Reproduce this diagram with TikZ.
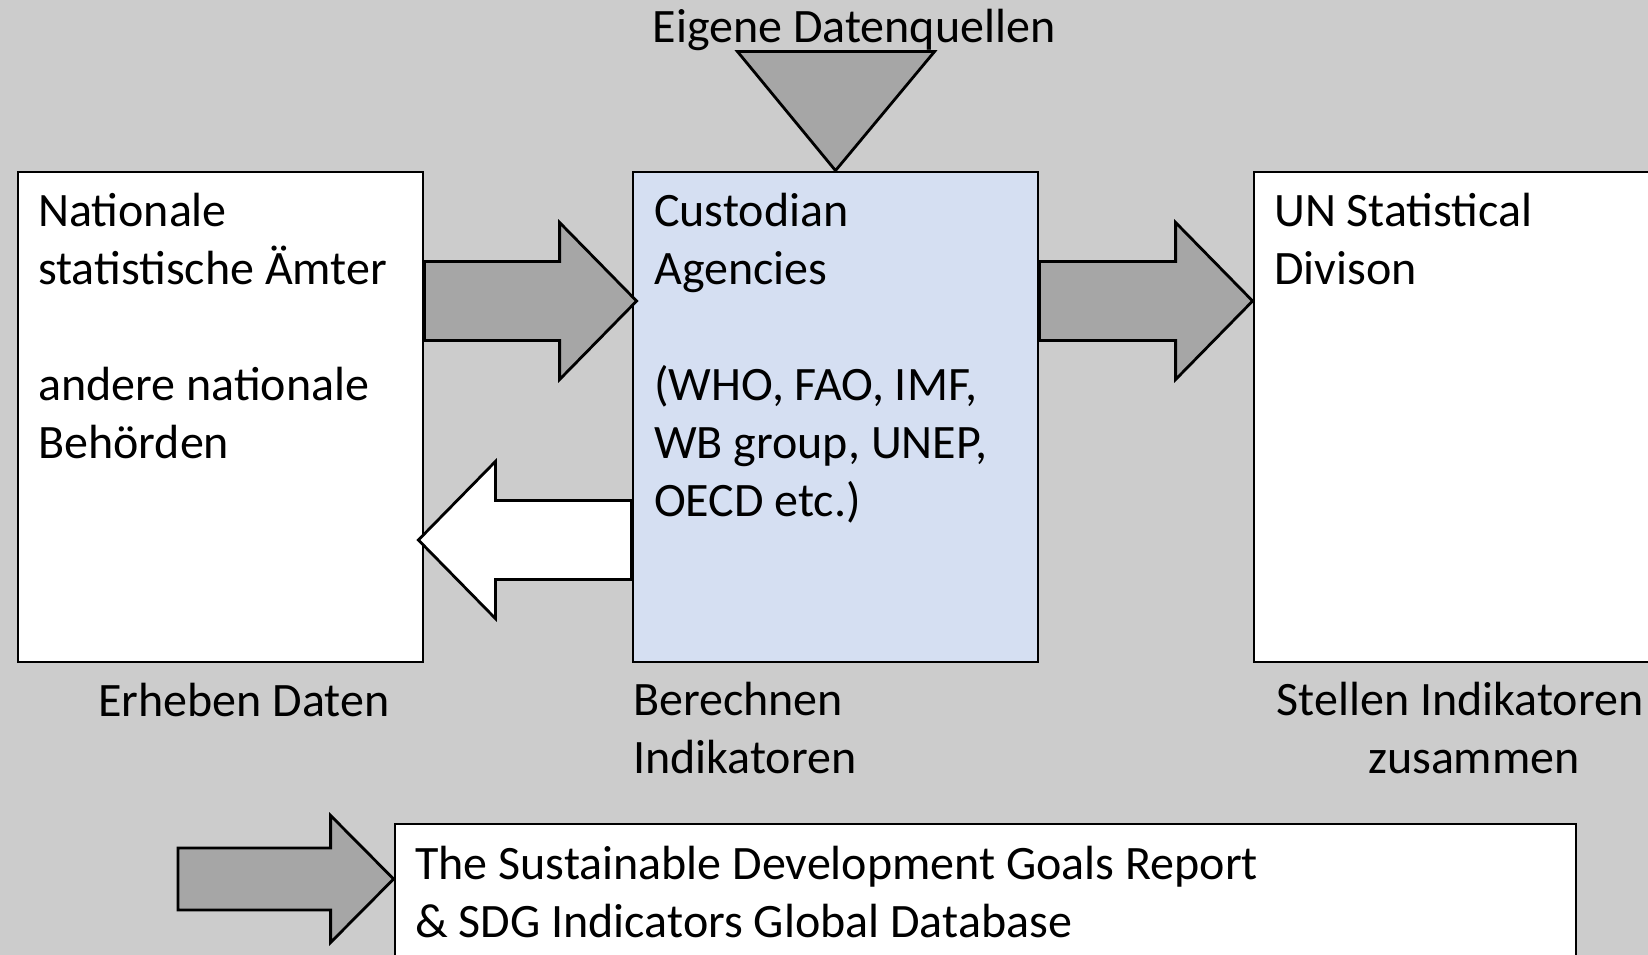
\documentclass[tikz,border=0pt]{standalone}
\usepackage{fontspec}
\setmainfont{Carlito}
\usepackage{tikz}
\usetikzlibrary{calc}

\definecolor{bggrey}{RGB}{204,204,204}
\definecolor{arrowgrey}{RGB}{166,166,166}
\definecolor{custblue}{RGB}{213,223,242}

\tikzset{
  box/.style={draw, line width=2.8pt, fill=white, minimum width=405, minimum height=490, inner sep=0pt},
  txt/.style={align=left, inner sep=0pt, font=\fontsize{48}{58}\selectfont},
  % #1 half shaft, #2 half head, #3 head length
  bigarrow/.style n args={3}{draw, line width=2.8pt, line join=miter,
    to path={let \p1=(\tikztostart), \p2=(\tikztotarget), \n1={sign(\x2-\x1)} in
      (\x1,{\y1+#1pt}) -- ({\x2-#3pt*\n1},{\y1+#1pt}) -- ({\x2-#3pt*\n1},{\y1+#2pt})
      -- (\x2,\y2) -- ({\x2-#3pt*\n1},{\y1-#2pt}) -- ({\x2-#3pt*\n1},{\y1-#1pt})
      -- (\x1,{\y1-#1pt}) -- cycle}}
}

\begin{document}
\begin{tikzpicture}[x=1pt,y=-1pt]
    \useasboundingbox (0,0) rectangle (1648,955);
    \fill[bggrey] (0,0) rectangle (1648,955);

    % boxes
    \node[box] (nat) at (220.5,417) {};
    \node[box, fill=custblue] (cust) at (835.5,417) {};
    \node[box] (unsd) at (1456.5,417) {};
    \node[box, minimum width=1181, minimum height=200] (sdg) at (985.5,924) {};

    % texts sit on the baseline of their last line
    \node[txt, anchor=base west] (nattext) at (38,458) {Nationale\\statistische Ämter\\[58pt]andere nationale\\Behörden};
    \node[txt, anchor=base west] (custtext) at (654,516) {Custodian\\Agencies\\[58pt](WHO, FAO, IMF,\\WB group, UNEP,\\OECD etc.)};
    \node[txt, anchor=base west] (unsdtext) at (1274,284) {UN Statistical\\Divison};
    \node[txt, anchor=base west] (sdgtext) at (415,937) {The Sustainable Development Goals Report\\\& SDG Indicators Global Database};

    % own sources
    \node[txt, anchor=base] (eigen) at (854,43) {Eigene Datenquellen};
    \draw[line width=2.8pt, fill=arrowgrey, line join=miter] (cust.north) -- ++(-98,-119) -- ++(197,0) -- cycle;

    % arrows
    \coordinate (a1s) at (nat.east |- 0,301);
    \coordinate (a1e) at ($(cust.west |- 0,301)+(5,0)$);
    \coordinate (a2s) at (cust.west |- 0,540);
    \coordinate (a2e) at ($(nat.east |- 0,540)+(-6,0)$);
    \coordinate (a3s) at (cust.east |- 0,301);
    \coordinate (a3e) at (unsd.west |- 0,301);
    \coordinate (a4s) at (178,879);
    \coordinate (a4e) at (sdg.west |- 0,879);
    \draw[bigarrow={39.5}{78.5}{77}, fill=arrowgrey] (a1s) to (a1e);
    \draw[bigarrow={39.5}{78.5}{77}, fill=white] (a2s) to (a2e);
    \draw[bigarrow={39.5}{78.5}{77}, fill=arrowgrey] (a3s) to (a3e);
    \draw[bigarrow={31}{63.5}{63}, fill=arrowgrey] (a4s) to (a4e);

    % labels below
    \node[txt, anchor=base] (erheben) at (244,716) {Erheben Daten};
    \node[txt, anchor=base west] (berechnen) at (633,773) {Berechnen\\Indikatoren};
    \node[txt, anchor=base, align=center] (stellen) at (1460,773) {Stellen Indikatoren\\\hspace*{28pt}zusammen};
\end{tikzpicture}
\end{document}
